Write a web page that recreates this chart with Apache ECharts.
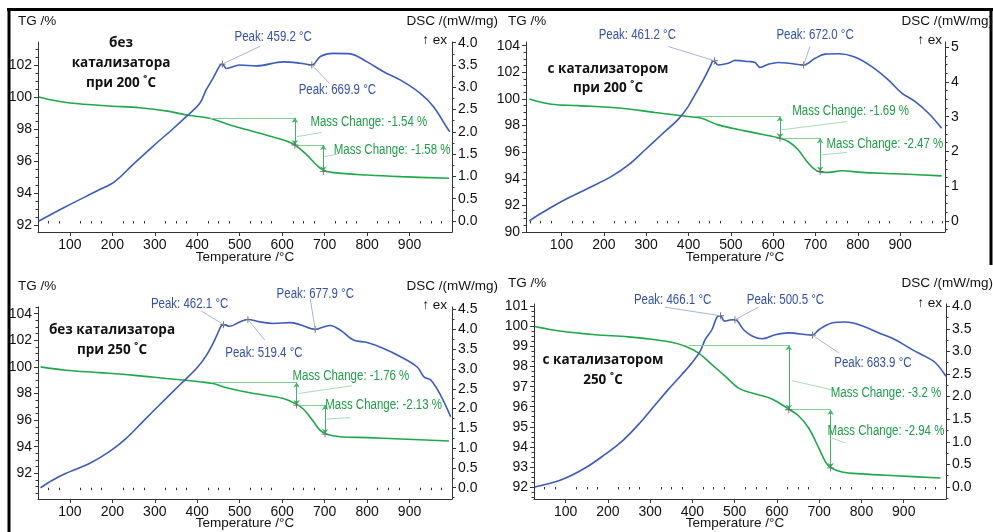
<!DOCTYPE html>
<html>
<head>
<meta charset="utf-8">
<script src="https://cdn.jsdelivr.net/npm/echarts@6/dist/echarts.min.js"></script>
<style>
  html, body { margin: 0; padding: 0; background: #fff; }
  #chart { width: 993px; height: 532px; }
</style>
</head>
<body>
<div id="chart"></div>
<script>
// ---- данные ----
const tempTicks = [100, 200, 300, 400, 500, 600, 700, 800, 900];

// панель 1: без катализатора, 200 °C
const tgT1 = [27, 60, 100, 193, 264, 330, 374, 429, 477, 548, 603, 630, 658, 681, 697, 721, 800, 879, 993];
const tgV1 = [100.0, 99.8, 99.63, 99.44, 99.33, 99.12, 98.88, 98.67, 98.25, 97.73, 97.31, 97.0, 96.38, 95.75, 95.42, 95.27, 95.12, 95.02, 94.92];
const dscT1 = [27, 90, 169, 205, 248, 295, 343, 374, 406, 421, 437, 453, 459, 469, 500, 540, 603, 642, 670, 690, 721, 760, 800, 839, 879, 926, 957, 989, 995];
const dscV1 = [0.0, 0.32, 0.70, 0.88, 1.26, 1.67, 2.07, 2.34, 2.64, 2.94, 3.20, 3.48, 3.52, 3.42, 3.50, 3.48, 3.57, 3.54, 3.50, 3.69, 3.76, 3.75, 3.57, 3.35, 3.16, 2.86, 2.56, 2.08, 2.0];
const tgTicks1 = [92, 94, 96, 98, 100, 102];
const dscTicks1 = [0, 0.5, 1, 1.5, 2, 2.5, 3, 3.5, 4];
const peaksT1 = [459.2, 669.9];
const peaksV1 = [3.52, 3.50];
const massLevels1 = [98.7, 97.0, 95.35];
const massTemps1 = [630, 697];
const massChange1 = [-1.54, -1.58];

// панель 2: с катализатором, 200 °C
const tgT2 = [24, 76, 139, 242, 321, 399, 431, 470, 533, 573, 616, 636, 659, 683, 707, 730, 762, 809, 888, 998];
const tgV2 = [100.0, 99.6, 99.5, 99.3, 98.98, 98.68, 98.55, 98.05, 97.6, 97.35, 97.05, 96.8, 96.18, 95.18, 94.55, 94.48, 94.6, 94.48, 94.38, 94.22];
const dscT2 = [24, 45, 100, 163, 218, 258, 297, 336, 376, 399, 415, 435, 451, 459, 470, 494, 510, 541, 557, 569, 589, 612, 636, 672, 699, 723, 754, 794, 833, 872, 904, 935, 967, 998];
const dscV2 = [0.0, 0.17, 0.56, 0.94, 1.28, 1.61, 2.04, 2.48, 2.93, 3.29, 3.63, 4.06, 4.44, 4.61, 4.49, 4.54, 4.62, 4.59, 4.56, 4.42, 4.51, 4.56, 4.54, 4.49, 4.68, 4.80, 4.81, 4.71, 4.44, 4.06, 3.68, 3.44, 3.10, 2.67];
const tgTicks2 = [90, 92, 94, 96, 98, 100, 102, 104];
const dscTicks2 = [0, 1, 2, 3, 4, 5];
const peaksT2 = [461.2, 672.0];
const peaksV2 = [4.61, 4.49];
const massLevels2 = [98.68, 97.05, 94.55];
const massTemps2 = [616, 711];
const massChange2 = [-1.69, -2.47];

// панель 3: без катализатора, 250 °C
const tgT3 = [31, 90, 169, 248, 327, 406, 437, 469, 524, 603, 634, 650, 674, 689, 705, 737, 800, 879, 993];
const tgV3 = [100.0, 99.75, 99.57, 99.38, 99.13, 98.88, 98.75, 98.43, 98.05, 97.63, 97.18, 96.83, 95.88, 95.25, 94.93, 94.75, 94.68, 94.58, 94.43];
const dscT3 = [31, 59, 90, 146, 193, 232, 272, 311, 358, 398, 422, 441, 457, 462, 477, 500, 519, 548, 579, 619, 642, 678, 697, 713, 737, 768, 800, 839, 879, 918, 934, 950, 973, 997];
const dscV3 = [0.0, 0.19, 0.36, 0.61, 0.91, 1.24, 1.67, 2.09, 2.59, 3.01, 3.35, 3.73, 4.10, 4.12, 4.08, 4.19, 4.25, 4.19, 4.15, 4.17, 4.12, 4.00, 4.06, 4.10, 3.98, 3.73, 3.67, 3.52, 3.31, 3.05, 2.80, 2.72, 2.34, 1.79];
const tgTicks3 = [92, 94, 96, 98, 100, 102, 104];
const dscTicks3 = [0, 0.5, 1, 1.5, 2, 2.5, 3, 3.5, 4, 4.5];
const peaksT3 = [462.1, 519.4, 677.9];
const peaksV3 = [4.12, 4.25, 4.00];
const massLevels3 = [98.83, 97.13, 94.95];
const massTemps3 = [634, 701];
const massChange3 = [-1.76, -2.13];

// панель 4: с катализатором, 250 °C
const tgT4 = [27, 90, 170, 248, 312, 351, 383, 414, 446, 478, 509, 541, 588, 628, 651, 675, 699, 714, 726, 754, 801, 880, 987];
const tgV4 = [100.0, 99.76, 99.59, 99.48, 99.34, 99.21, 99.01, 98.68, 98.10, 97.51, 96.93, 96.68, 96.39, 95.88, 95.55, 94.94, 93.94, 93.28, 92.98, 92.75, 92.65, 92.56, 92.45];
const dscT4 = [27, 90, 146, 193, 233, 272, 312, 343, 375, 399, 418, 430, 446, 458, 466, 476, 493, 501, 521, 541, 564, 596, 628, 684, 699, 730, 762, 801, 841, 880, 920, 951, 975, 1000];
const dscV4 = [0.0, 0.16, 0.42, 0.72, 1.01, 1.38, 1.82, 2.16, 2.49, 2.75, 3.00, 3.26, 3.48, 3.76, 3.79, 3.67, 3.70, 3.70, 3.48, 3.34, 3.28, 3.37, 3.41, 3.36, 3.48, 3.63, 3.65, 3.57, 3.41, 3.26, 3.04, 2.89, 2.75, 2.45];
const tgTicks4 = [92, 93, 94, 95, 96, 97, 98, 99, 100, 101];
const dscTicks4 = [0, 0.5, 1, 1.5, 2, 2.5, 3, 3.5, 4];
const peaksT4 = [466.1, 500.5, 683.9];
const peaksV4 = [3.79, 3.70, 3.36];
const massLevels4 = [99.06, 95.85, 92.95];
const massTemps4 = [628, 727];
const massChange4 = [-3.2, -2.94];

// ---- оформление ----
const FONT = "'Liberation Sans', Arial, sans-serif";
const BLUE = '#3c5bbd';
const GREEN = '#1fa84b';
const PEAK_TXT = '#3550ab';
const MASS_TXT = '#1e9e46';
const AXIS = '#333';
const CROSS = 'path://M4.4,0h1.2v10h-1.2zM0,4.4h10v1.2h-10z';

const panels = [
  { grid: { left: 38, top: 42, width: 414, height: 190 }, x: [25, 1000], yL: [91.56, 103.44], yR: [-0.247, 4.016],
    tgTicks: tgTicks1, dscTicks: dscTicks1, dscDigits: 1, tgMinor: 0.5, dscMinor: 0.25,
    tg: [tgT1, tgV1], dsc: [dscT1, dscV1], peaks: [peaksT1, peaksV1], mass: [massLevels1, massTemps1, massChange1],
    peakText: [[579, 4.12], [730, 2.94]], peakLead: [[548, 3.92], [712, 3.08]], massStart: 430,
    massText: [[804, 98.46], [859, 96.65]], massLead: [[[634, 97.52], [693, 97.79]], [[699, 96.27], [729, 96.42]]] },
  { grid: { left: 526, top: 42, width: 419, height: 190 }, x: [16, 1006], yL: [90, 104.28], yR: [-0.32, 5.15],
    tgTicks: tgTicks2, dscTicks: dscTicks2, dscDigits: 0, tgMinor: 0.5, dscMinor: 0.25,
    tg: [tgT2, tgV2], dsc: [dscT2, dscV2], peaks: [peaksT2, peaksV2], mass: [massLevels2, massTemps2, massChange2],
    peakText: [[279, 5.36], [699, 5.36]], peakLead: [[352, 5.02], [687, 5.02]], massStart: 415,
    massText: [[783, 99.05], [864, 96.63]], massLead: [[[620, 97.68], [774, 98.3]], [[715, 95.8], [774, 95.98]]] },
  { grid: { left: 38, top: 307, width: 414, height: 192 }, x: [25, 1000], yL: [90.07, 104.5], yR: [-0.285, 4.566],
    tgTicks: tgTicks3, dscTicks: dscTicks3, dscDigits: 1, tgMinor: 0.5, dscMinor: 0.25,
    tg: [tgT3, tgV3], dsc: [dscT3, dscV3], peaks: [peaksT3, peaksV3], mass: [massLevels3, massTemps3, massChange3],
    peakText: [[382, 4.65], [557, 3.41], [678, 4.90]], peakLead: [[410, 4.46], [559, 3.73], [666, 4.78]], massStart: 437,
    massText: [[762, 99.3], [839, 97.13]], massLead: [[[638, 98.0], [764, 98.58]], [[705, 96.08], [760, 96.18]]] },
  { grid: { left: 534, top: 304, width: 412, height: 195 }, x: [25, 1000], yL: [91.4, 101.12], yR: [-0.266, 4.05],
    tgTicks: tgTicks4, dscTicks: dscTicks4, dscDigits: 1, tgMinor: 0.25, dscMinor: 0.25,
    tg: [tgT4, tgV4], dsc: [dscT4, dscV4], peaks: [peaksT4, peaksV4], mass: [massLevels4, massTemps4, massChange4],
    peakText: [[353, 4.13], [620, 4.13], [827, 2.75]], peakLead: [[335, 3.98], [556, 3.98], [746, 2.97]], massStart: 391,
    massText: [[858, 96.68], [858, 94.77]], massLead: [[[636, 97.3], [738, 96.8]], [[730, 94.44], [762, 94.19]]] }
];

const pairs = (xs, ys) => xs.map((x, i) => [x, ys[i]]);
// мелкие деления между подписями
const minorTicks = (rng, major, step) => {
  const out = [];
  const start = Math.ceil(rng[0] / step) * step;
  for (let v = start; v <= rng[1] + 1e-9; v += step) {
    const r = +v.toFixed(4);
    if (!major.some(m => Math.abs(m - r) < 1e-6)) out.push(r);
  }
  return out;
};

const labelStyle = { color: '#111', fontSize: 14, fontFamily: FONT };

const grids = [], xAxes = [], yAxes = [], series = [];

panels.forEach((p, i) => {
  grids.push(Object.assign({ containLabel: false }, p.grid));

  // ось X: основная + мелкие деления
  xAxes.push({
    type: 'value', gridIndex: i, position: 'bottom', min: p.x[0], max: p.x[1],
    splitLine: { show: false },
    axisLine: { show: true, onZero: false, lineStyle: { color: AXIS } },
    axisTick: { show: true, length: 4, customValues: tempTicks, lineStyle: { color: AXIS } },
    axisLabel: Object.assign({ customValues: tempTicks, margin: 6 }, labelStyle)
  }, {
    type: 'value', gridIndex: i, position: 'bottom', min: p.x[0], max: p.x[1],
    splitLine: { show: false }, axisLine: { show: false }, axisLabel: { show: false },
    axisTick: { show: true, length: 2.5, customValues: minorTicks(p.x, tempTicks, 25), lineStyle: { color: AXIS } }
  });

  // ось TG (слева) и DSC (справа)
  const yPair = (pos, rng, ticks, minor, fmt) => [{
    type: 'value', gridIndex: i, position: pos, min: rng[0], max: rng[1],
    splitLine: { show: false },
    axisLine: { show: true, onZero: false, lineStyle: { color: AXIS } },
    axisTick: { show: true, length: 4, customValues: ticks, lineStyle: { color: AXIS } },
    axisLabel: Object.assign({ customValues: ticks, formatter: fmt, margin: 6 }, labelStyle)
  }, {
    type: 'value', gridIndex: i, position: pos, min: rng[0], max: rng[1],
    splitLine: { show: false }, axisLine: { show: false }, axisLabel: { show: false },
    axisTick: { show: true, length: 2.5, customValues: minorTicks(rng, ticks, minor), lineStyle: { color: AXIS } }
  }];
  yAxes.push(...yPair('left', p.yL, p.tgTicks, p.tgMinor, v => String(v)));
  yAxes.push(...yPair('right', p.yR, p.dscTicks, p.dscMinor, v => v.toFixed(p.dscDigits)));

  const [lv, mt] = p.mass;
  const crossPoint = coord => ({ coord, symbol: CROSS, symbolSize: 7, itemStyle: { color: '#666' }, label: { show: false } });
  const lineSeg = (a, b, color, arrows) => [
    { coord: a, symbol: arrows ? 'arrow' : 'none', symbolSize: 5, lineStyle: { color, width: 1, type: 'solid' } },
    { coord: b, symbol: arrows ? 'arrow' : 'none', symbolSize: 5 }
  ];

  // TG — зелёная кривая со ступенями потери массы
  series.push({
    type: 'line', xAxisIndex: 2 * i, yAxisIndex: 4 * i, data: pairs(p.tg[0], p.tg[1]),
    smooth: 0.35, symbol: 'none', clip: false, silent: true,
    lineStyle: { color: GREEN, width: 1.6 },
    markLine: {
      silent: true, animation: false, label: { show: false }, emphasis: { disabled: true },
      data: [
        lineSeg([p.massStart, lv[0]], [mt[0], lv[0]], '#7fcf92', false),
        lineSeg([mt[0], lv[1]], [mt[1], lv[1]], '#7fcf92', false),
        lineSeg([mt[0], lv[0]], [mt[0], lv[1]], '#3fb763', true),
        lineSeg([mt[1], lv[1]], [mt[1], lv[2]], '#3fb763', true)
      ]
    },
    markPoint: {
      silent: true, animation: false,
      data: [crossPoint([mt[0], lv[1]]), crossPoint([mt[1], lv[2]])]
    }
  });

  // DSC — синяя кривая с отмеченными пиками
  const [pt, pv] = p.peaks;
  series.push({
    type: 'line', xAxisIndex: 2 * i, yAxisIndex: 4 * i + 2, data: pairs(p.dsc[0], p.dsc[1]),
    smooth: 0.35, symbol: 'none', clip: false, silent: true,
    lineStyle: { color: BLUE, width: 1.6 },
    markPoint: {
      silent: true, animation: false,
      data: pt.map((t, k) => crossPoint([t, pv[k]]))
    }
  });
});

// подписи осей, заголовки и рамка
const txt = (text, x, y, align, font, fill) => ({
  type: 'text', x, y, silent: true,
  style: { text, font: font || "13.5px 'Liberation Sans', Arial", fill: fill || '#111', align: align || 'left', verticalAlign: 'middle' }
});
const BOLD = "bold 13.5px 'Open Sans', 'Liberation Sans', sans-serif";
const graphic = [
  { type: 'line', silent: true, shape: { x1: 7, y1: 9.5, x2: 993, y2: 9.5 }, style: { stroke: '#000', lineWidth: 3 } },
  { type: 'line', silent: true, shape: { x1: 9, y1: 8, x2: 9, y2: 532 }, style: { stroke: '#000', lineWidth: 3 } },
  { type: 'line', silent: true, shape: { x1: 991, y1: 8, x2: 991, y2: 265 }, style: { stroke: '#000', lineWidth: 3 } },

  txt('TG /%', 18, 21), txt('DSC /(mW/mg)', 498, 21, 'right'), txt('↑ ex', 447, 40, 'right'),
  txt('TG /%', 508, 21), txt('DSC /(mW/mg)', 993, 21, 'right'), txt('↑ ex', 942, 40, 'right'),
  txt('TG /%', 18, 286), txt('DSC /(mW/mg)', 498, 286, 'right'), txt('↑ ex', 447, 305, 'right'),
  txt('TG /%', 508, 283), txt('DSC /(mW/mg)', 993, 283, 'right'), txt('↑ ex', 942, 303, 'right'),

  txt('Temperature /°C', 245, 257, 'center'), txt('Temperature /°C', 735, 257, 'center'),
  txt('Temperature /°C', 245, 523, 'center'), txt('Temperature /°C', 735, 523, 'center'),

  txt('без', 121, 43, 'center', BOLD), txt('катализатора', 121, 63, 'center', BOLD), txt('при 200 ˚C', 121, 83, 'center', BOLD),
  txt('с катализатором', 608, 69, 'center', BOLD), txt('при 200 ˚C', 608, 88, 'center', BOLD),
  txt('без катализатора', 112, 330, 'center', BOLD), txt('при 250 ˚C', 112, 350, 'center', BOLD),
  txt('с катализатором', 603, 360, 'center', BOLD), txt('250 ˚C', 603, 380, 'center', BOLD)
];

const myChart = echarts.init(document.getElementById('chart'), null, { renderer: 'canvas' });
myChart.setOption({
  backgroundColor: '#fff',
  animation: false,
  grid: grids,
  xAxis: xAxes,
  yAxis: yAxes,
  series,
  graphic
});

// подписи пиков и ступеней: позиции переводятся через оси графика
const NOTE_FONT = "14px 'Liberation Sans', Arial";
const note = (text, pt, fill) => ({
  type: 'text', x: pt[0], y: pt[1], scaleX: 0.82, silent: true, z: 10,
  style: { text, font: NOTE_FONT, fill, align: 'center', verticalAlign: 'middle' }
});
const lead = (a, b, stroke) => ({
  type: 'line', silent: true, z: 9,
  shape: { x1: a[0], y1: a[1], x2: b[0], y2: b[1] }, style: { stroke, lineWidth: 1 }
});
const notes = [];
panels.forEach((p, i) => {
  const toTg = c => myChart.convertToPixel({ xAxisIndex: 2 * i, yAxisIndex: 4 * i }, c);
  const toDsc = c => myChart.convertToPixel({ xAxisIndex: 2 * i, yAxisIndex: 4 * i + 2 }, c);
  const [pt, pv] = p.peaks;
  pt.forEach((t, k) => {
    notes.push(lead(toDsc([t, pv[k]]), toDsc(p.peakLead[k]), '#aab3d8'));
    notes.push(note('Peak: ' + t.toFixed(1) + ' °C', toDsc(p.peakText[k]), PEAK_TXT));
  });
  const mc = p.mass[2];
  mc.forEach((m, k) => {
    notes.push(lead(toTg(p.massLead[k][0]), toTg(p.massLead[k][1]), '#a8dcb5'));
    notes.push(note('Mass Change: ' + m + ' %', toTg(p.massText[k]), MASS_TXT));
  });
});
myChart.setOption({ graphic: graphic.concat(notes) });

window.addEventListener('resize', () => myChart.resize());
</script>
</body>
</html>
